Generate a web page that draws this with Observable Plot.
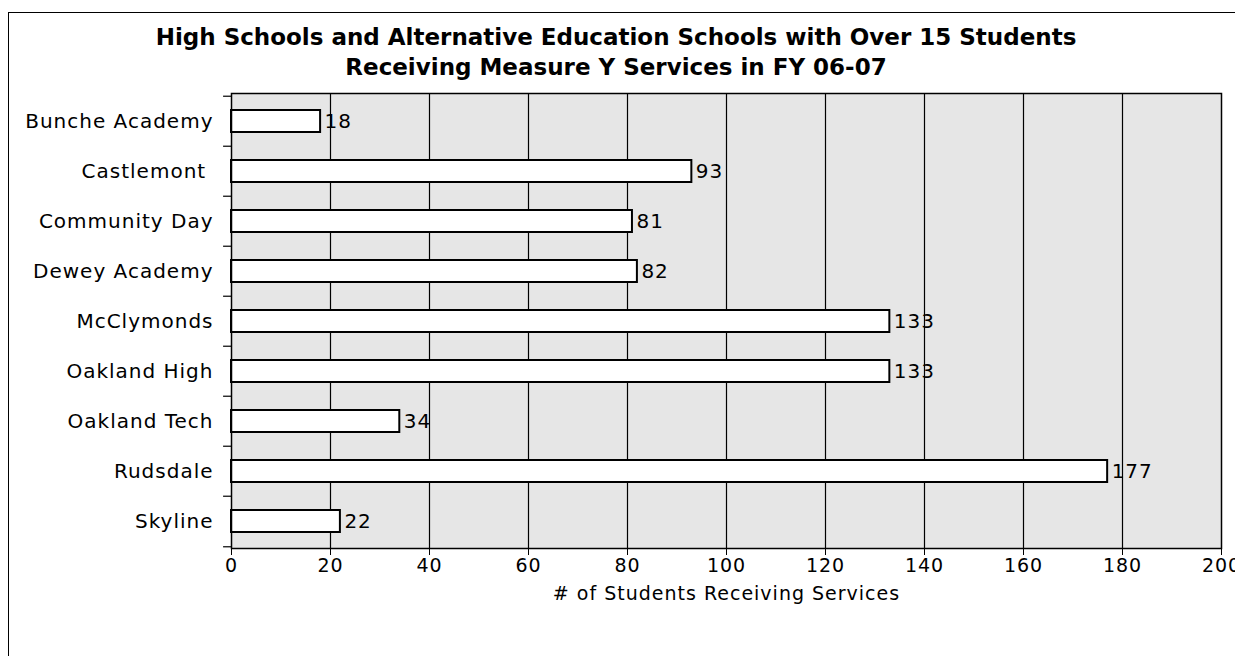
<!DOCTYPE html>
<html><head><meta charset="utf-8">
<script src="https://cdn.jsdelivr.net/npm/d3@7"></script>
<script src="https://cdn.jsdelivr.net/npm/@observablehq/plot@0.6"></script>
<style>
body{margin:0;background:#fff;font-family:"DejaVu Sans",sans-serif;}
#wrap{position:relative;width:1235px;height:656px;overflow:hidden;}
#frame{position:absolute;left:8px;top:12px;width:1300px;height:700px;border-left:1.5px solid #000;border-top:1.5px solid #000;}
#title{position:absolute;left:0;top:22px;width:1232px;text-align:center;font-weight:bold;font-size:23px;line-height:30px;color:#000;}
#chart{position:absolute;left:0;top:85px;}
</style></head>
<body><div id="wrap"><div id="frame"></div>
<div id="title">High Schools and Alternative Education Schools with Over 15 Students<br>Receiving Measure Y Services in FY 06-07</div>
<div id="chart"></div></div>
<script>
const schools = ["Bunche Academy","Castlemont ","Community Day","Dewey Academy","McClymonds","Oakland High","Oakland Tech","Rudsdale","Skyline"];
const students = [18,93,81,82,133,133,34,177,22];
const xTicks = [0,20,40,60,80,100,120,140,160,180,200];
const xTitle = "# of Students Receiving Services";
const data = schools.map((s,i)=>({school:s, n:students[i]}));

const H = 571, mt = 8, mb = 108;
const step = (H - mt - mb) / schools.length;

const chart = Plot.plot({
  width: 1235, height: H,
  marginLeft: 231, marginRight: 14, marginTop: mt, marginBottom: mb,
  style: {fontFamily: "DejaVu Sans, sans-serif", fontSize: "19px", color: "#000", background: "transparent", letterSpacing: "1px"},
  x: {domain: [0,200]},
  y: {domain: schools, paddingInner: 0.56, paddingOuter: 0.28},
  marks: [
    Plot.frame({fill: "#e6e6e6"}),
    Plot.ruleX(xTicks.slice(1,-1), {stroke: "#000", strokeWidth: 1.2}),
    Plot.barX(data, {y: "school", x: "n", fill: "#fff", stroke: "#000", strokeWidth: 2}),
    Plot.text(data, {y: "school", x: "n", text: d => String(d.n), textAnchor: "start", dx: 4, fontSize: 20, fill: "#000"}),
    Plot.ruleY(schools, {y: d => d, x1: -1.6, x2: 0, dy: -step/2, stroke: "#000", strokeWidth: 1.2}),
    Plot.ruleY(schools.slice(-1), {y: d => d, x1: -1.6, x2: 0, dy: step/2, stroke: "#000", strokeWidth: 1.2}),
    Plot.frame({stroke: "#000", strokeWidth: 1.5}),
    Plot.axisX({ticks: xTicks, tickSize: 7, tickPadding: 3, fontSize: 19, label: null}),
    Plot.text([xTitle], {text: d => d, frameAnchor: "bottom", dy: 51, fontSize: 19, fill: "#000"}),
    Plot.axisY({tickSize: 0, tickPadding: 18, fontSize: 20, label: null, style: {letterSpacing: "1.3px"}})
  ]
});
document.getElementById("chart").appendChild(chart);
</script></body></html>
